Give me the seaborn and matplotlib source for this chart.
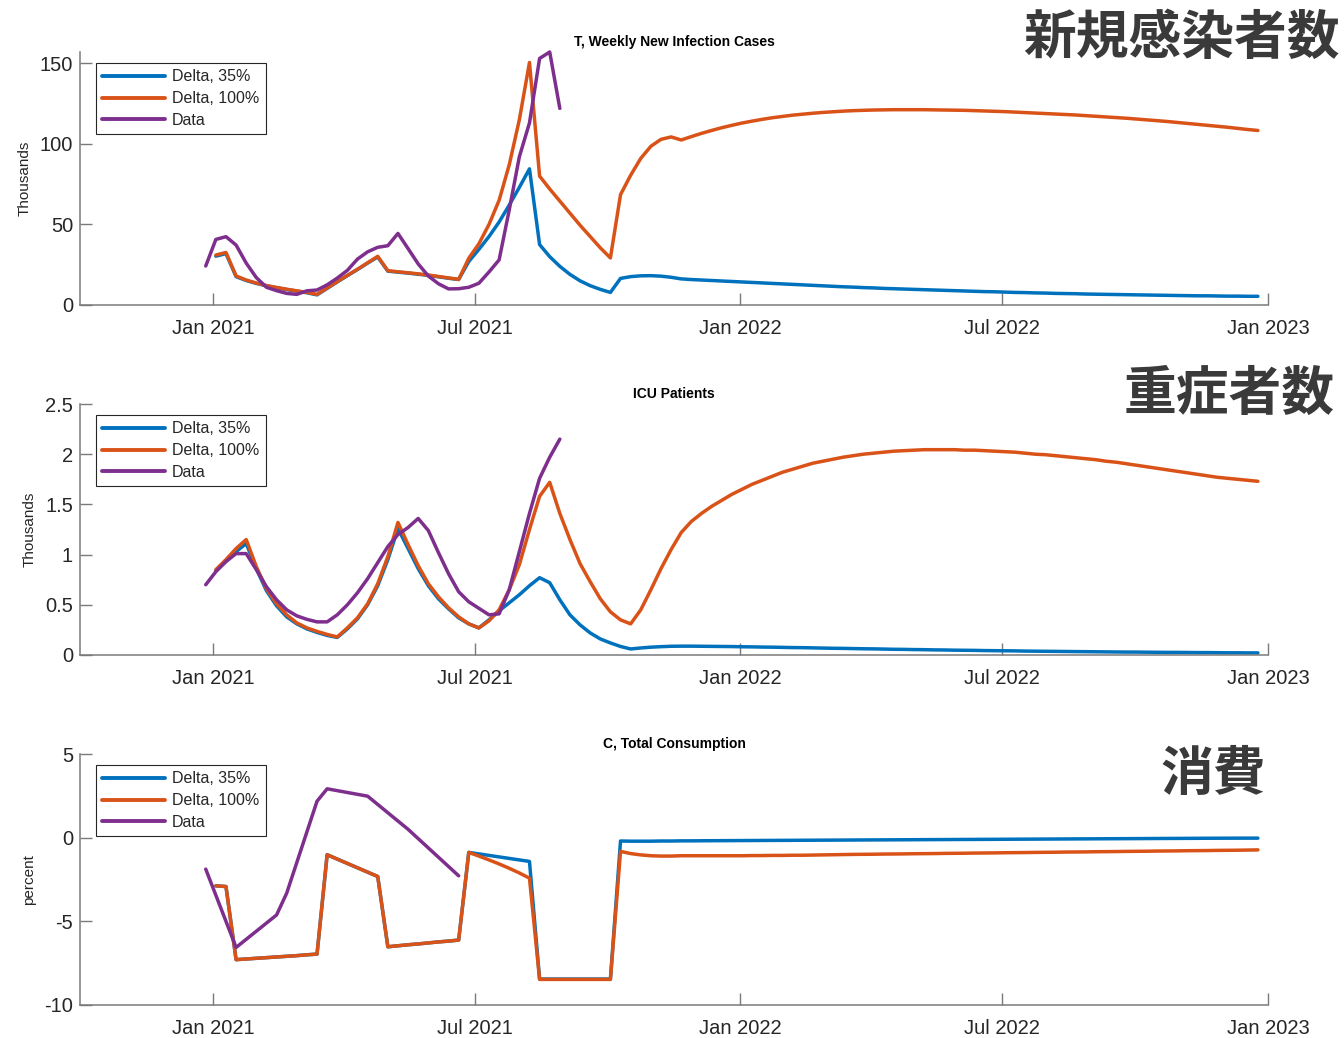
import numpy as np
import pandas as pd
import matplotlib
matplotlib.use("Agg")
import matplotlib.pyplot as plt
import matplotlib.dates as mdates
from matplotlib.ticker import FuncFormatter
import seaborn as sns

# ---------------------------------------------------------------- data
# Weekly series: model runs start 2021-01-03, observed data start 2020-12-27
model_start = "2021-01-03"
data_start = "2020-12-27"

series_labels = ["Delta, 35%", "Delta, 100%", "Data"]
series_colors = ["#0072BD", "#D95319", "#7E2F8E"]

# T, weekly new infection cases (thousands)
inf_100 = [31.0, 32.6, 18.0, 15.5, 13.6, 12.1, 10.9, 9.8, 8.8, 7.8,
           6.6, 10.5, 14.5, 18.4, 22.2, 26.2, 30.2, 21.3, 20.6, 20.0,
           19.3, 18.6, 17.7, 16.8, 15.9, 29.0, 38.0, 50.0, 65.0, 87.0,
           115.0, 150.5, 80.0, 72.0, 64.5, 57.0, 49.5, 42.5, 35.5, 29.2,
           68.5, 80.5, 91.0, 98.5, 102.8, 104.3, 102.4,
           104.5, 106.5, 108.3, 110.0, 111.5, 112.9, 114.1, 115.2, 116.2, 117.0,
           117.8, 118.4, 119.0, 119.5, 119.9, 120.3, 120.6, 120.8, 121.0, 121.1,
           121.2, 121.2, 121.2, 121.2, 121.1, 121.0, 120.9, 120.8, 120.6, 120.4,
           120.2, 120.0, 119.7, 119.4, 119.1, 118.8, 118.5, 118.2, 117.9, 117.5,
           117.1, 116.7, 116.3, 115.9, 115.4, 114.9, 114.4, 113.9, 113.3, 112.7,
           112.1, 111.5, 110.9, 110.3, 109.6, 108.9, 108.3]
inf_35 = [30.3, 31.9, 17.6, 15.2, 13.4, 11.9, 10.7, 9.6, 8.6, 7.6,
          6.3, 10.3, 14.3, 18.2, 22.0, 26.0, 29.8, 21.0, 20.4, 19.8,
          19.1, 18.4, 17.5, 16.6, 15.8, 27.0, 34.5, 42.5, 51.5, 62.0,
          73.0, 84.5, 37.5, 30.0, 24.0, 19.0, 15.0, 12.0, 9.7, 7.8,
          16.5, 17.6, 18.1, 18.2, 17.9, 17.2, 16.2,
          15.8, 15.5, 15.2, 14.9, 14.6, 14.3, 14.0, 13.7, 13.4, 13.1,
          12.8, 12.5, 12.2, 11.9, 11.6, 11.3, 11.1, 10.8, 10.6, 10.3,
          10.1, 9.9, 9.7, 9.5, 9.3, 9.1, 8.9, 8.7, 8.5, 8.3,
          8.2, 8.0, 7.8, 7.7, 7.5, 7.4, 7.2, 7.1, 7.0, 6.8,
          6.7, 6.6, 6.5, 6.4, 6.3, 6.2, 6.1, 6.0, 5.9, 5.8,
          5.7, 5.7, 5.6, 5.5, 5.5, 5.4, 5.4]
inf_data = [24.2, 40.7, 42.4, 37.2, 26.0, 17.0, 11.0, 8.9, 7.2, 6.6,
            8.8, 9.3, 12.5, 16.7, 21.5, 28.5, 33.0, 35.8, 36.8, 44.4,
            35.0, 25.5, 18.0, 13.2, 10.0, 10.1, 11.0, 13.5, 20.5, 28.0,
            59.0, 92.0, 113.0, 153.0, 157.0, 122.0]

# ICU patients (thousands)
icu_100 = [0.85, 0.95, 1.06, 1.15, 0.88, 0.66, 0.51, 0.40, 0.32, 0.27,
           0.235, 0.205, 0.18, 0.27, 0.37, 0.51, 0.71, 0.98, 1.32, 1.10,
           0.89, 0.71, 0.58, 0.47, 0.38, 0.31, 0.27, 0.34, 0.45, 0.65,
           0.90, 1.25, 1.58, 1.72, 1.41, 1.15, 0.91, 0.73, 0.56, 0.43,
           0.35, 0.31, 0.45, 0.65, 0.86, 1.05, 1.22, 1.33,
           1.41, 1.48, 1.54, 1.60, 1.65, 1.70, 1.74, 1.78, 1.82, 1.85,
           1.88, 1.91, 1.93, 1.95, 1.97, 1.985, 2.0, 2.01, 2.02, 2.03,
           2.035, 2.04, 2.045, 2.045, 2.045, 2.045, 2.04, 2.04, 2.035, 2.03,
           2.025, 2.02, 2.01, 2.0, 1.995, 1.985, 1.975, 1.965, 1.955, 1.945,
           1.93, 1.92, 1.905, 1.89, 1.875, 1.86, 1.845, 1.83, 1.815, 1.80,
           1.785, 1.77, 1.76, 1.75, 1.74, 1.73]
icu_35 = [0.84, 0.94, 1.03, 1.11, 0.86, 0.64, 0.49, 0.38, 0.31, 0.26,
          0.225, 0.195, 0.175, 0.26, 0.36, 0.50, 0.69, 0.95, 1.26, 1.06,
          0.86, 0.69, 0.56, 0.46, 0.37, 0.31, 0.27, 0.35, 0.44, 0.52,
          0.60, 0.69, 0.77, 0.72, 0.55, 0.40, 0.30, 0.22, 0.16, 0.12,
          0.085, 0.06, 0.07, 0.078, 0.083, 0.087, 0.088, 0.088,
          0.087, 0.086, 0.085, 0.084, 0.082, 0.081, 0.079, 0.078, 0.076, 0.074,
          0.073, 0.071, 0.069, 0.067, 0.066, 0.064, 0.062, 0.061, 0.059, 0.057,
          0.056, 0.054, 0.053, 0.051, 0.050, 0.048, 0.047, 0.046, 0.044, 0.043,
          0.042, 0.041, 0.039, 0.038, 0.037, 0.036, 0.035, 0.034, 0.033, 0.032,
          0.031, 0.030, 0.029, 0.029, 0.028, 0.027, 0.026, 0.026, 0.025, 0.024,
          0.024, 0.023, 0.022, 0.022, 0.021, 0.021]
icu_data = [0.70, 0.83, 0.93, 1.01, 1.01, 0.85, 0.68, 0.55, 0.45, 0.39,
            0.355, 0.33, 0.33, 0.40, 0.50, 0.62, 0.76, 0.92, 1.08, 1.20,
            1.27, 1.36, 1.24, 1.02, 0.81, 0.63, 0.53, 0.465, 0.40, 0.41,
            0.65, 1.03, 1.41, 1.76, 1.97, 2.15]

# C, total consumption (percent)
cons_100 = [-2.88, -2.92, -7.29, -7.25, -7.21, -7.17, -7.13, -7.09, -7.05, -7.00,
            -6.96, -1.02, -1.28, -1.54, -1.80, -2.06, -2.32, -6.52, -6.46, -6.40,
            -6.35, -6.29, -6.23, -6.18, -6.12, -0.88, -1.10, -1.33, -1.57, -1.83,
            -2.11, -2.42, -8.47, -8.47, -8.47, -8.47, -8.47, -8.47, -8.47, -8.47,
            -0.82, -0.95, -1.03, -1.08, -1.10, -1.10, -1.08, -1.08,
            -1.08, -1.08, -1.08, -1.08, -1.08, -1.07, -1.07, -1.06, -1.06, -1.05,
            -1.05, -1.04, -1.03,
            -1.02, -1.01, -1.00, -0.995, -0.99, -0.98, -0.975, -0.97, -0.96, -0.955,
            -0.95, -0.94, -0.935, -0.93, -0.92, -0.915, -0.91, -0.90, -0.895, -0.89,
            -0.88, -0.875, -0.87, -0.86, -0.855, -0.85, -0.84, -0.835, -0.83, -0.82,
            -0.815, -0.81, -0.80, -0.795, -0.79, -0.78, -0.775, -0.77, -0.76, -0.755,
            -0.75, -0.74, -0.73]
cons_35 = cons_100[:26] + [
            -0.97, -1.06, -1.15, -1.24, -1.33, -1.42,
            -8.45, -8.45, -8.45, -8.45, -8.45, -8.45, -8.45, -8.45,
            -0.20, -0.21, -0.21, -0.21, -0.20, -0.20, -0.19, -0.19,
            -0.185, -0.182, -0.179, -0.176, -0.173, -0.170, -0.167, -0.164, -0.161, -0.158,
            -0.155, -0.152, -0.149, -0.146, -0.143, -0.140, -0.137, -0.134, -0.131, -0.128,
            -0.125, -0.122, -0.119, -0.116, -0.113, -0.110, -0.107, -0.104, -0.101, -0.098,
            -0.095, -0.092, -0.089, -0.086, -0.083, -0.080, -0.077, -0.074, -0.071, -0.068,
            -0.065, -0.062, -0.059, -0.056, -0.053, -0.050, -0.047, -0.044, -0.041, -0.038,
            -0.035, -0.033, -0.031, -0.030, -0.029, -0.028]
# observed consumption is only available on some weeks (week index from data_start)
cons_data_week = [0, 3, 7, 8, 11, 12, 16, 20, 25]
cons_data = [-1.88, -6.56, -4.62, -3.32, 2.18, 2.92, 2.48, 0.50, -2.28]

panel_titles = ["T, Weekly New Infection Cases", "ICU Patients", "C, Total Consumption"]
panel_ylabels = ["Thousands", "Thousands", "percent"]
panel_jp = ["新規感染者数", "重症者数", "消費"]
panel_ylims = [(0, 157), (0, 2.5), (-10, 5)]
panel_yticks = [[0, 50, 100, 150], [0, 0.5, 1, 1.5, 2, 2.5], [-10, -5, 0, 5]]
xtick_dates = ["2021-01-01", "2021-07-01", "2022-01-01", "2022-07-01", "2023-01-01"]
x_range = ("2020-10-01", "2023-01-01")

# ---------------------------------------------------------------- style
sns.set_theme(style="ticks")
plt.rcParams["font.family"] = ["Liberation Sans", "Noto Sans CJK JP", "DejaVu Sans"]
axis_grey = "#7a7a7a"
text_dark = "#262626"


def weekly(start, values):
    return pd.date_range(start, periods=len(values), freq="7D")


panels = [
    [(weekly(model_start, inf_35), inf_35), (weekly(model_start, inf_100), inf_100),
     (weekly(data_start, inf_data), inf_data)],
    [(weekly(model_start, icu_35), icu_35), (weekly(model_start, icu_100), icu_100),
     (weekly(data_start, icu_data), icu_data)],
    [(weekly(model_start, cons_35), cons_35), (weekly(model_start, cons_100), cons_100),
     (pd.Timestamp(data_start) + pd.to_timedelta(np.array(cons_data_week) * 7, unit="D"),
      cons_data)],
]

fig = plt.figure(figsize=(13.44, 10.38), dpi=100)
W, H = 1344.0, 1038.0
ax_left, ax_width = 80 / W, 1188 / W
ax_h = 251 / H
ax_bottoms = [(H - 305) / H, (H - 655) / H, (H - 1005) / H]
ax_heights = [253 / H, ax_h, ax_h]
jp_pos = [(0.997, 0.963), (0.993, 0.620), (0.942, 0.2535)]

for i in range(3):
    ax = fig.add_axes([ax_left, ax_bottoms[i], ax_width, ax_heights[i]])
    for (dates, vals), lab, col in zip(panels[i], series_labels, series_colors):
        sns.lineplot(x=dates, y=vals, ax=ax, color=col, linewidth=2.5,
                     label=lab, estimator=None, sort=False, clip_on=False)

    ax.set_xlim(pd.Timestamp(x_range[0]), pd.Timestamp(x_range[1]))
    ax.set_ylim(*panel_ylims[i])
    ax.set_yticks(panel_yticks[i])
    ax.yaxis.set_major_formatter(FuncFormatter(lambda v, p: f"{v:g}"))
    ax.set_xticks([pd.Timestamp(d) for d in xtick_dates])
    ax.xaxis.set_major_formatter(mdates.DateFormatter("%b %Y"))

    for side in ["top", "right"]:
        ax.spines[side].set_visible(False)
    for side in ["left", "bottom"]:
        ax.spines[side].set_color(axis_grey)
        ax.spines[side].set_linewidth(1.1)
    ax.tick_params(axis="both", direction="in", length=8.5, width=1.0,
                   color=axis_grey, labelcolor=text_dark, labelsize=14.5)
    ax.tick_params(axis="x", pad=10)
    ax.tick_params(axis="y", pad=5)

    ax.set_xlabel("")
    ax.set_ylabel(panel_ylabels[i], fontsize=11, color=text_dark, labelpad=6)
    ax.set_title(panel_titles[i], fontsize=10, fontweight="bold", color="black",
                 pad=4, family=["Liberation Sans Narrow", "Liberation Sans"])

    leg = ax.legend(loc="upper left", bbox_to_anchor=(16 / 1188, 1 - 11 / 251),
                    borderaxespad=0, frameon=True, fancybox=False, framealpha=1,
                    edgecolor=text_dark, fontsize=11.5, handlelength=3.9,
                    handletextpad=0.45, labelspacing=0.42, borderpad=0.4)
    leg.get_frame().set_linewidth(0.8)
    for t in leg.get_texts():
        t.set_color(text_dark)
    for ln in leg.get_lines():
        ln.set_linewidth(2.8)

    fig.text(jp_pos[i][0], jp_pos[i][1], panel_jp[i], ha="right", va="center",
             fontsize=38, fontweight="bold", color="#3a3a3a",
             family=["Noto Sans CJK JP", "DejaVu Sans"])

fig.savefig("out.png", dpi=100)
